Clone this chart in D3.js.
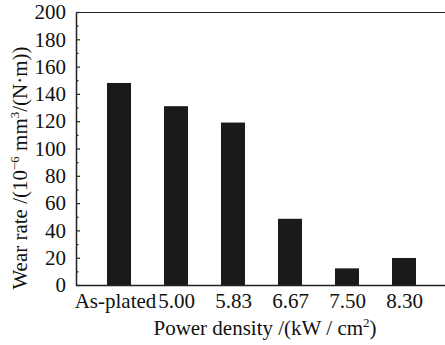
<!DOCTYPE html>
<html><head><meta charset="utf-8">
<script src="https://cdn.jsdelivr.net/npm/d3@7"></script>
<style>body{margin:0;background:#fff}svg{display:block}svg text{font-family:"Times New Roman","Liberation Serif",Times,"DejaVu Serif",serif !important;fill:#111}</style>
</head><body>
<svg id="c" width="445" height="345"></svg>
<script>
const categories = ["As-plated","5.00","5.83","6.67","7.50","8.30"];
const wearRate = [148,131,119,48.5,12.2,19.8];
const yTicks = [0,20,40,60,80,100,120,140,160,180,200];
const yMinorTicks = [10,30,50,70,90,110,130,150,170,190];

const svg = d3.select("#c");
const L = 76, R = 445, T = 12, B = 285;
const x = d3.scalePoint().domain(categories).range([119, 404]);
const y = d3.scaleLinear().domain([0,200]).range([B, T]);
const bw = 24;

svg.selectAll("rect.bar").data(wearRate).join("rect")
  .attr("class","bar")
  .attr("x",(d,i)=>x(categories[i])-bw/2)
  .attr("width",bw)
  .attr("y",d=>y(d))
  .attr("height",d=>B-y(d))
  .attr("fill","#1a1a1a");

svg.append("line").attr("x1",L).attr("x2",R).attr("y1",T+0.5).attr("y2",T+0.5).attr("stroke","#222").attr("stroke-width",1.2);
svg.append("line").attr("x1",L).attr("x2",R).attr("y1",B+0.5).attr("y2",B+0.5).attr("stroke","#222").attr("stroke-width",1.5);

const yAxis = d3.axisLeft(y).tickValues(yTicks).tickSizeInner(-4).tickSizeOuter(0).tickPadding(10);
const gy = svg.append("g").attr("transform",`translate(${L},0)`).call(yAxis);
gy.attr("font-family",null);
gy.select(".domain").attr("stroke","#222").attr("stroke-width",1.5);
gy.selectAll(".tick line").attr("stroke","#222").attr("stroke-width",1.2);
gy.selectAll("text").attr("font-size",21).attr("fill","#111");
const yMinor = d3.axisLeft(y).tickValues(yMinorTicks).tickSize(-2.5).tickFormat("");
const gym = svg.append("g").attr("transform",`translate(${L},0)`).call(yMinor);
gym.select(".domain").remove();
gym.selectAll(".tick line").attr("stroke","#222").attr("stroke-width",1.2);

const xAxis = d3.axisBottom(x).tickSize(0).tickPadding(8);
const gx = svg.append("g").attr("transform",`translate(0,${B})`).call(xAxis);
gx.attr("font-family",null);
gx.select(".domain").remove();
gx.selectAll("text").attr("font-size",21).attr("fill","#111");
gx.selectAll(".tick").filter(d=>d==="As-plated").select("text").attr("dx",-4);

const xt = svg.append("text").attr("x",265).attr("y",335).attr("text-anchor","middle").attr("font-size",21);
xt.append("tspan").text("Power density /(kW / cm");
xt.append("tspan").attr("dy",-8).attr("font-size",13).text("2");
xt.append("tspan").attr("dy",8).text(")");

const yt = svg.append("text").attr("transform","translate(27,168) rotate(-90)").attr("text-anchor","middle").attr("font-size",21);
yt.append("tspan").text("Wear rate /(10");
yt.append("tspan").attr("dy",-8).attr("font-size",13).text("−6");
yt.append("tspan").attr("dy",8).text(" mm");
yt.append("tspan").attr("dy",-8).attr("font-size",13).text("3");
yt.append("tspan").attr("dy",8).text("/(N·m))");
</script>
</body></html>
